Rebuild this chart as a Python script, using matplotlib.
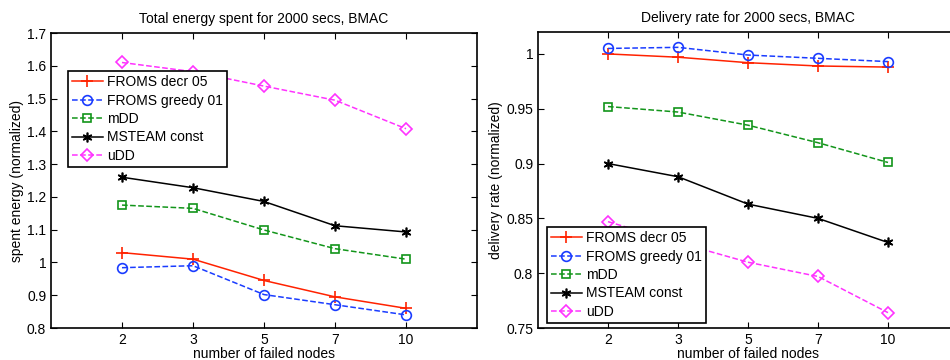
import numpy as np
import matplotlib.pyplot as plt

plt.rcParams['font.family'] = ['Liberation Sans', 'DejaVu Sans']

failed_nodes = ['2', '3', '5', '7', '10']
series_names = ['FROMS decr 05', 'FROMS greedy 01', 'mDD', 'MSTEAM const', 'uDD']

# spent energy (normalized)
energy_froms_decr = [1.03, 1.01, 0.945, 0.895, 0.86]
energy_froms_greedy = [0.984, 0.99, 0.902, 0.871, 0.84]
energy_mdd = [1.175, 1.165, 1.099, 1.042, 1.01]
energy_msteam = [1.26, 1.228, 1.186, 1.112, 1.093]
energy_udd = [1.61, 1.582, 1.538, 1.495, 1.408]

# delivery rate (normalized)
rate_froms_decr = [1.0, 0.997, 0.992, 0.989, 0.988]
rate_froms_greedy = [1.005, 1.006, 0.999, 0.996, 0.993]
rate_mdd = [0.952, 0.947, 0.935, 0.919, 0.901]
rate_msteam = [0.9, 0.888, 0.863, 0.85, 0.828]
rate_udd = [0.847, 0.828, 0.81, 0.797, 0.764]

styles = [
    dict(color='#ff2200', ls='-', marker='+', ms=8, mew=1.2),
    dict(color='#1a3cff', ls='--', marker='o', ms=7, mfc='none', mew=1.2),
    dict(color='#12951a', ls='--', marker='s', ms=5.5, mfc='none', mew=1.2),
    dict(color='black', ls='-', marker=(6, 2, 0), ms=7, mew=1.2),
    dict(color='#ff33ff', ls='--', marker='D', ms=6, mfc='none', mew=1.2),
]

fig = plt.figure(figsize=(9.5, 3.6), dpi=100)
ax1 = fig.add_axes([51/950, 32/360, 426/950, 295/360])
ax2 = fig.add_axes([538/950, 32/360, 420/950, 296/360])

x = np.arange(1, len(failed_nodes) + 1)


def draw(ax, data, title, ylabel, ylim, yticks, yticklabels, loc):
    for vals, name, st in zip(data, series_names, styles):
        ax.plot(x, vals, label=name, lw=1.1, **st)
    ax.set_xlim(0, 6)
    ax.set_ylim(*ylim)
    ax.set_xticks(x)
    ax.set_xticklabels(failed_nodes)
    ax.set_yticks(yticks)
    ax.set_yticklabels(yticklabels)
    ax.tick_params(direction='in', top=True, right=True, length=4, labelsize=10, width=0.8)
    ax.set_title(title, fontsize=10, pad=7)
    ax.set_xlabel('number of failed nodes', fontsize=10, labelpad=0)
    ax.set_ylabel(ylabel, fontsize=10, labelpad=2)
    for sp in ax.spines.values():
        sp.set_linewidth(1.2)
    leg = ax.legend(loc='lower left', bbox_to_anchor=loc, fontsize=10, fancybox=False,
                    framealpha=1, edgecolor='black', borderpad=0.3, labelspacing=0.32,
                    handlelength=2.2, handletextpad=0.3, borderaxespad=0)
    leg.get_frame().set_linewidth(1.2)


draw(ax1, [energy_froms_decr, energy_froms_greedy, energy_mdd, energy_msteam, energy_udd],
     'Total energy spent for 2000 secs, BMAC', 'spent energy (normalized)',
     (0.8, 1.7), np.arange(0.8, 1.71, 0.1),
     ['0.8', '0.9', '1', '1.1', '1.2', '1.3', '1.4', '1.5', '1.6', '1.7'],
     (17/426, (328 - 167)/295))

draw(ax2, [rate_froms_decr, rate_froms_greedy, rate_mdd, rate_msteam, rate_udd],
     'Delivery rate for 2000 secs, BMAC', 'delivery rate (normalized)',
     (0.75, 1.02), np.arange(0.75, 1.001, 0.05),
     ['0.75', '0.8', '0.85', '0.9', '0.95', '1'],
     (9/420, (328 - 323)/296))

fig.savefig('out.png', dpi=100)
